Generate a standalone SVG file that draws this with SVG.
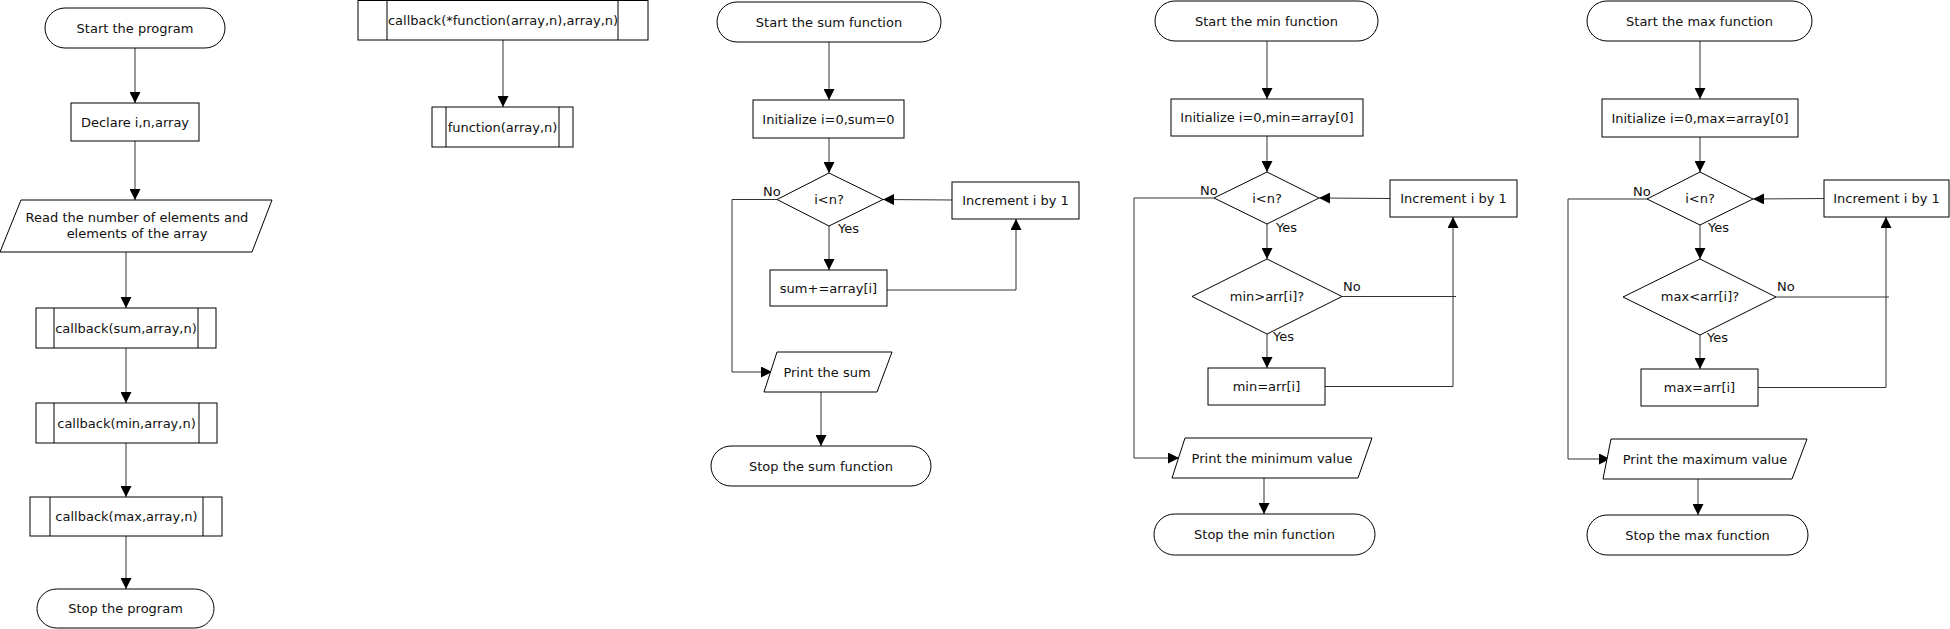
<svg xmlns="http://www.w3.org/2000/svg" width="1950" height="629" viewBox="0 0 1950 629">
<style>
  .n{fill:#fff;stroke:#000;stroke-width:1}
  .t{font-family:"DejaVu Sans",sans-serif;font-size:13px;fill:#111;text-anchor:middle}
  .l{font-family:"DejaVu Sans",sans-serif;font-size:13px;fill:#111}
  .c{fill:none;stroke:#333;stroke-width:1}
  .ca{fill:none;stroke:#333;stroke-width:1;marker-end:url(#ah)}
</style>
<defs>
  <marker id="ah" markerUnits="userSpaceOnUse" markerWidth="11" markerHeight="11" refX="10" refY="5" orient="auto" viewBox="0 0 10 10">
    <path d="M0,0 L10,5 L0,10 z" fill="#000"/>
  </marker>
</defs>
<rect width="1950" height="629" fill="#fff"/>

<g id="connectors">
  <!-- main -->
  <line class="ca" x1="135" y1="48" x2="135" y2="103"/>
  <line class="ca" x1="135" y1="141" x2="135" y2="200"/>
  <line class="ca" x1="126" y1="252" x2="126" y2="308"/>
  <line class="ca" x1="126" y1="348" x2="126" y2="403"/>
  <line class="ca" x1="126" y1="443" x2="126" y2="497"/>
  <line class="ca" x1="126" y1="536" x2="126" y2="589"/>
  <!-- callback -->
  <line class="ca" x1="503" y1="40" x2="503" y2="107"/>
  <!-- sum -->
  <line class="ca" x1="829" y1="42" x2="829" y2="100"/>
  <line class="ca" x1="829" y1="138" x2="829" y2="173"/>
  <line class="ca" x1="829" y1="226" x2="829" y2="270"/>
  <line class="ca" x1="952" y1="200" x2="883" y2="199.5"/>
  <polyline class="ca" points="887,290 1016,290 1016,219"/>
  <polyline class="ca" points="777,199.5 732,199.5 732,372 772,372"/>
  <line class="ca" x1="821" y1="392" x2="821" y2="446"/>
  <!-- min -->
  <line class="ca" x1="1267" y1="41" x2="1267" y2="99"/>
  <line class="ca" x1="1267" y1="136" x2="1267" y2="172"/>
  <line class="ca" x1="1267" y1="224" x2="1267" y2="259"/>
  <line class="ca" x1="1390" y1="198.5" x2="1319" y2="198"/>
  <line class="c" x1="1342" y1="296.5" x2="1456" y2="296.5"/>
  <polyline class="ca" points="1325,386.5 1453,386.5 1453,217"/>
  <line class="ca" x1="1267" y1="334" x2="1267" y2="368"/>
  <polyline class="ca" points="1214,198 1134,198 1134,458 1179,458"/>
  <line class="ca" x1="1264" y1="478" x2="1264" y2="514"/>
  <!-- max -->
  <line class="ca" x1="1700" y1="41" x2="1700" y2="99"/>
  <line class="ca" x1="1700" y1="137" x2="1700" y2="172"/>
  <line class="ca" x1="1700" y1="225" x2="1700" y2="259"/>
  <line class="ca" x1="1824" y1="198.5" x2="1753" y2="199"/>
  <line class="c" x1="1776" y1="297" x2="1889" y2="297"/>
  <polyline class="ca" points="1758,387.5 1886,387.5 1886,217"/>
  <line class="ca" x1="1700" y1="335" x2="1700" y2="369"/>
  <polyline class="ca" points="1647,199 1568,199 1568,459 1610,459"/>
  <line class="ca" x1="1698" y1="479" x2="1698" y2="515"/>
  <!-- labels -->
  <text class="l" x="763" y="196">No</text>
  <text class="l" x="838" y="233">Yes</text>
  <text class="l" x="1200" y="195">No</text>
  <text class="l" x="1276" y="232">Yes</text>
  <text class="l" x="1343" y="291">No</text>
  <text class="l" x="1273" y="341">Yes</text>
  <text class="l" x="1633" y="196">No</text>
  <text class="l" x="1708" y="232">Yes</text>
  <text class="l" x="1777" y="291">No</text>
  <text class="l" x="1707" y="342">Yes</text>
</g>

<!-- main program -->
<g id="start-program"><rect class="n" x="45" y="8" width="180" height="40" rx="20"/><text class="t" x="135" y="32.5">Start the program</text></g>
<g id="declare"><rect class="n" x="71" y="103" width="128" height="38"/><text class="t" x="135" y="126.5">Declare i,n,array</text></g>
<g id="read"><polygon class="n" points="21,200 272,200 252,252 0,252"/><text class="t" x="137" y="221.5">Read the number of elements and</text><text class="t" x="137" y="237.5">elements of the array</text></g>
<g id="callback-sum"><rect class="n" x="36" y="308" width="180" height="40"/><line class="n" x1="54" y1="308" x2="54" y2="348"/><line class="n" x1="198" y1="308" x2="198" y2="348"/><text class="t" x="126" y="332.5">callback(sum,array,n)</text></g>
<g id="callback-min"><rect class="n" x="36" y="403" width="181" height="40"/><line class="n" x1="54" y1="403" x2="54" y2="443"/><line class="n" x1="199" y1="403" x2="199" y2="443"/><text class="t" x="126.5" y="427.5">callback(min,array,n)</text></g>
<g id="callback-max"><rect class="n" x="30" y="497" width="192" height="39"/><line class="n" x1="50" y1="497" x2="50" y2="536"/><line class="n" x1="203" y1="497" x2="203" y2="536"/><text class="t" x="126.5" y="521">callback(max,array,n)</text></g>
<g id="stop-program"><rect class="n" x="37" y="589" width="177" height="39" rx="19.5"/><text class="t" x="125.5" y="613">Stop the program</text></g>

<!-- callback definition -->
<g id="callback-def"><rect class="n" x="358" y="0.5" width="290" height="39.5"/><line class="n" x1="387" y1="0.5" x2="387" y2="40"/><line class="n" x1="618" y1="0.5" x2="618" y2="40"/><text class="t" x="503" y="24.5">callback(*function(array,n),array,n)</text></g>
<g id="function-call"><rect class="n" x="432" y="107" width="141" height="40"/><line class="n" x1="446" y1="107" x2="446" y2="147"/><line class="n" x1="559" y1="107" x2="559" y2="147"/><text class="t" x="502.5" y="131.5">function(array,n)</text></g>

<!-- sum function -->
<g id="start-sum"><rect class="n" x="717" y="2" width="224" height="40" rx="20"/><text class="t" x="829" y="26.5">Start the sum function</text></g>
<g id="init-sum"><rect class="n" x="753" y="100" width="151" height="38"/><text class="t" x="828.5" y="123.5">Initialize i=0,sum=0</text></g>
<g id="cond-sum"><polygon class="n" points="829,173 883,199.5 829,226 777,199.5"/><text class="t" x="829" y="204">i&lt;n?</text></g>
<g id="inc-sum"><rect class="n" x="952" y="182" width="127" height="37"/><text class="t" x="1015.5" y="204.5">Increment i by 1</text></g>
<g id="add-sum"><rect class="n" x="770" y="270" width="117" height="36"/><text class="t" x="828.5" y="292.5">sum+=array[i]</text></g>
<g id="print-sum"><polygon class="n" points="777,352 892,352 877,392 764,392"/><text class="t" x="827" y="376.5">Print the sum</text></g>
<g id="stop-sum"><rect class="n" x="711" y="446" width="220" height="40" rx="20"/><text class="t" x="821" y="470.5">Stop the sum function</text></g>

<!-- min function -->
<g id="start-min"><rect class="n" x="1155" y="1" width="223" height="40" rx="20"/><text class="t" x="1266.5" y="25.5">Start the min function</text></g>
<g id="init-min"><rect class="n" x="1171" y="99" width="192" height="37"/><text class="t" x="1267" y="122">Initialize i=0,min=array[0]</text></g>
<g id="cond-min"><polygon class="n" points="1267,172 1319,198 1267,224 1214,198"/><text class="t" x="1267" y="202.5">i&lt;n?</text></g>
<g id="inc-min"><rect class="n" x="1390" y="180" width="127" height="37"/><text class="t" x="1453.5" y="203">Increment i by 1</text></g>
<g id="cmp-min"><polygon class="n" points="1267,259 1342,296.5 1267,334 1192,296.5"/><text class="t" x="1267" y="300.5">min&gt;arr[i]?</text></g>
<g id="set-min"><rect class="n" x="1208" y="368" width="117" height="37"/><text class="t" x="1266.5" y="391">min=arr[i]</text></g>
<g id="print-min"><polygon class="n" points="1185,438 1372,438 1358,478 1172,478"/><text class="t" x="1272" y="462.5">Print the minimum value</text></g>
<g id="stop-min"><rect class="n" x="1154" y="514" width="221" height="41" rx="20.5"/><text class="t" x="1264.5" y="539">Stop the min function</text></g>

<!-- max function -->
<g id="start-max"><rect class="n" x="1587" y="1" width="225" height="40" rx="20"/><text class="t" x="1699.5" y="25.5">Start the max function</text></g>
<g id="init-max"><rect class="n" x="1602" y="99" width="196" height="38"/><text class="t" x="1700" y="122.5">Initialize i=0,max=array[0]</text></g>
<g id="cond-max"><polygon class="n" points="1700,172 1753,199 1700,225 1647,199"/><text class="t" x="1700" y="203">i&lt;n?</text></g>
<g id="inc-max"><rect class="n" x="1824" y="180" width="125" height="37"/><text class="t" x="1886.5" y="203">Increment i by 1</text></g>
<g id="cmp-max"><polygon class="n" points="1700,259 1776,297 1700,335 1623,297"/><text class="t" x="1700" y="301">max&lt;arr[i]?</text></g>
<g id="set-max"><rect class="n" x="1641" y="369" width="117" height="37"/><text class="t" x="1699.5" y="392">max=arr[i]</text></g>
<g id="print-max"><polygon class="n" points="1611,439 1807,439 1792,479 1603,479"/><text class="t" x="1705" y="463.5">Print the maximum value</text></g>
<g id="stop-max"><rect class="n" x="1587" y="515" width="221" height="40" rx="20"/><text class="t" x="1697.5" y="539.5">Stop the max function</text></g>
</svg>
